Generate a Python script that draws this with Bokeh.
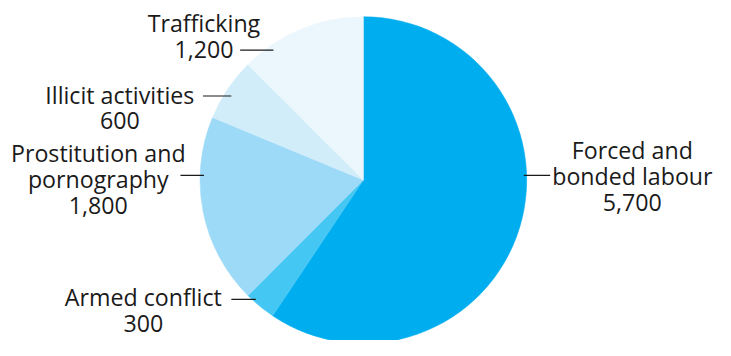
import math
from bokeh.plotting import figure
from bokeh.models import Range1d, ColumnDataSource
from bokeh.core.properties import value
from bokeh.embed import file_html
from bokeh.resources import INLINE

# ---- data ----
categories = ["Forced and\nbonded labour", "Armed conflict", "Prostitution and\npornography",
              "Illicit activities", "Trafficking"]
counts = [5700, 300, 1800, 600, 1200]
colors = ["#00AEEF", "#45C7F4", "#9DDAF7", "#D2EDFA", "#EBF7FD"]

# ---- layout (reference pixel coords, 731 x 356, y down) ----
RW, RH = 731, 356
W, H = 715, 340
sx, sy = W / RW, H / RH

def py(y):
    return RH - y

cx, cy, R = 371, 188, 171
# label block: centre x, first baseline y ; leader: x0, x1, y
label_pos = [(646, 165), (146, 319), (100, 168), (122, 107), (208, 32)]
leaders = [(535, 562, 183), (236, 261, 313), (184, 208, 183), (207, 236, 100), (245, 279, 52)]
line_gap = 27.5
baseline_fix = 8 / sy   # renderer places alphabetic baseline lower; compensate

total = sum(counts)
starts, ends = [], []
cum = 0.0
for c in counts:
    a0 = math.pi / 2 - 2 * math.pi * cum / total
    cum += c
    a1 = math.pi / 2 - 2 * math.pi * cum / total
    starts.append(a1)
    ends.append(a0)

p = figure(width=W, height=H, x_range=Range1d(0, RW), y_range=Range1d(0, RH),
           output_backend="svg", toolbar_location=None, min_border=0)
p.axis.visible = False
p.grid.visible = False
p.outline_line_color = None
p.background_fill_color = "white"
p.border_fill_color = "white"

src = ColumnDataSource(dict(x=[cx] * len(counts), y=[py(cy)] * len(counts),
                            start=starts, end=ends, color=colors))
# radius is measured along x; correct so the circle matches the vertical scale
p.wedge(x="x", y="y", radius=R * sy / sx, start_angle="start", end_angle="end",
        direction="anticlock", fill_color="color", line_color="color", line_width=0.5,
        source=src)

# leaders
p.segment(x0=[l[0] for l in leaders], x1=[l[1] for l in leaders],
          y0=[py(l[2]) for l in leaders], y1=[py(l[2]) for l in leaders],
          line_color="#1a1a1a", line_width=1.2)

tx, ty, tt = [], [], []
for cat, cnt, (lx, ly) in zip(categories, counts, label_pos):
    lines = cat.split("\n") + [f"{cnt:,}"]
    for i, ln in enumerate(lines):
        tx.append(lx)
        ty.append(py(ly + i * line_gap) + baseline_fix)
        tt.append(ln)
p.text(x=tx, y=ty, text=tt, text_align="center", text_baseline="alphabetic",
       text_font=value("Open Sans"), text_font_size="23.2px", text_color="#1a1a1a")

open("out.html", "w").write(file_html(p, INLINE))
